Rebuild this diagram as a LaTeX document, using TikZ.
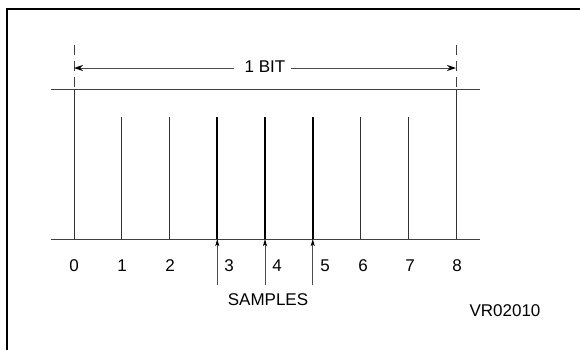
\documentclass[tikz,border=0pt]{standalone}
\usepackage{fontspec}
\setmainfont{Liberation Sans}
\usetikzlibrary{arrows.meta,calc}
\begin{document}
\begin{tikzpicture}[x=1pt,y=-1pt,
  lbl/.style={font=\fontsize{17}{20}\selectfont, inner sep=0pt, anchor=center},
  frameline/.style={line width=2.2pt, black},
  hline/.style={line width=1pt, black!75},
  tick/.style={line width=0.9pt, black!80},
  sampletick/.style={line width=1.8pt, black},
  extline/.style={line width=0.9pt, black!75, dash pattern=on 10pt off 6pt},
  dimline/.style={line width=1pt, black!70, -{Stealth[length=9pt,width=6pt,inset=3pt,black]}},
  samplearrow/.style={line width=0.9pt, black!70, -{Stealth[length=7pt,width=4pt,inset=1.5pt,black]}}]
\useasboundingbox (0,0) rectangle (580,349);
% frame (left and top edges)
\coordinate (fbl) at (7,350);
\coordinate (ftl) at (7,9);
\coordinate (ftr) at (581,9);
\draw[frameline] (fbl) -- (ftl) -- (ftr);
% horizontal lines
\coordinate (tl) at (51,89);
\coordinate (tr) at (480,89);
\coordinate (bl) at (51,239);
\coordinate (br) at (480,239);
\draw[hline] (tl) -- (tr);
\draw[hline] (bl) -- (br);
% vertical lines
\foreach \i in {0,...,8} {
  \pgfmathsetmacro{\xx}{74+\i*47.75}
  \coordinate (bot\i) at (\xx,239);
  \coordinate (mid\i) at (\xx,117);
  \coordinate (top\i) at (\xx,89);
  \coordinate (ext\i) at (\xx,45);
  \coordinate (sa\i) at (\xx,285);
}
\draw[tick] (top0) -- (bot0);
\draw[tick] (top8) -- (bot8);
\draw[extline] (ext0) -- (top0);
\draw[extline] (ext8) -- (top8);
\foreach \i in {1,2,6,7} \draw[tick] (mid\i) -- (bot\i);
\foreach \i in {3,4,5} \draw[sampletick] (mid\i) -- (bot\i);
% 1 BIT dimension
\node[lbl, inner xsep=0pt] (bit) at (265,67) {1 BIT};
\coordinate (dl) at (74,68);
\coordinate (dr) at (456,68);
\draw[dimline] ($(bit.west)+(-10,1)$) -- (dl);
\draw[dimline] ($(bit.east)+(5,1)$) -- (dr);
% numbers
\node[lbl] (n0) at (74,266) {0};
\node[lbl] (n1) at (122,266) {1};
\node[lbl] (n2) at (170,266) {2};
\node[lbl] (n3) at (229,266) {3};
\node[lbl] (n4) at (277,266) {4};
\node[lbl] (n5) at (325,266) {5};
\node[lbl] (n6) at (363,266) {6};
\node[lbl] (n7) at (410,266) {7};
\node[lbl] (n8) at (457,266) {8};
% sample arrows
\foreach \i in {3,4,5} \draw[samplearrow] (sa\i) -- (bot\i);
\node[lbl] (samples) at (268,300) {SAMPLES};
\node[lbl] (vr) at (505,311) {VR02010};
\end{tikzpicture}
\end{document}
